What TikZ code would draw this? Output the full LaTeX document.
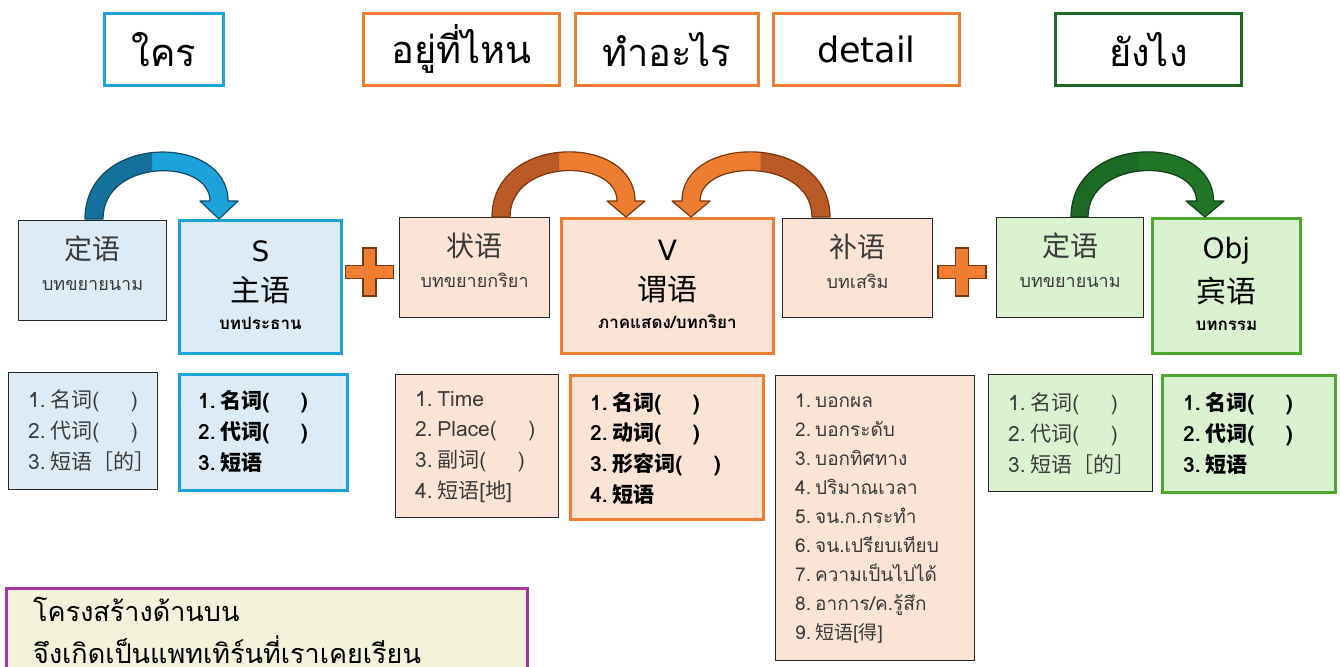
\documentclass[tikz,border=0pt]{standalone}
\usepackage{fontspec}
\setmainfont{Loma}[Script=Thai]
\newfontfamily\cjk{Noto Sans CJK SC}
\newfontfamily\lat{DejaVu Sans}
\definecolor{blueC}{HTML}{1CA3DC}
\definecolor{blueD}{HTML}{15719C}
\definecolor{blueO}{HTML}{0E4C6A}
\definecolor{lblue}{HTML}{DDEBF7}
\definecolor{orC}{HTML}{ED7D31}
\definecolor{orD}{HTML}{B95A27}
\definecolor{orO}{HTML}{7A360C}
\definecolor{peach}{HTML}{FBE4D6}
\definecolor{grC}{HTML}{4EA72E}
\definecolor{grD}{HTML}{1D6A24}
\definecolor{grL}{HTML}{207526}
\definecolor{grO}{HTML}{10401A}
\definecolor{lgreen}{HTML}{DAF2D0}
\definecolor{yel}{HTML}{F3F3DC}
\definecolor{purp}{HTML}{A5379E}
\definecolor{txg}{HTML}{3A3A3A}
\definecolor{edge}{HTML}{262626}
\newcommand\fsz[2]{\fontsize{#1}{#2}\selectfont}
\newcommand\itm[1]{\hbox{#1}}
\newcommand\nsp{\hspace{0.22em}}
\newcommand\lgap{(\hspace{1.5em})}
\newcommand\dnrule[1]{\rule[-#1]{0pt}{#1}}
\newcommand\plussign[2]{%
  \filldraw[fill=orC,draw=orO,line width=1.4pt] ({#1-6.5},{#2-24}) -- ({#1+6.5},{#2-24}) -- ({#1+6.5},{#2-6.5}) -- ({#1+24},{#2-6.5}) -- ({#1+24},{#2+6.5}) -- ({#1+6.5},{#2+6.5}) -- ({#1+6.5},{#2+24}) -- ({#1-6.5},{#2+24}) -- ({#1-6.5},{#2+6.5}) -- ({#1-24},{#2+6.5}) -- ({#1-24},{#2-6.5}) -- ({#1-6.5},{#2-6.5}) -- cycle;}
% #1 tail outer x, #2 head centre x, #3 signed shaft width, #4 signed head half width, #5 tail/tip y, #6 dark, #7 light, #8 outline
\newcommand\bentarrow[8]{%
  \def\bpath{(#1,#5) .. controls (#1,133) and ({#2+#3/2},133) .. ({#2+#3/2},201) -- ({#2+#4},201) -- (#2,#5) -- ({#2-#4},201) -- ({#2-#3/2},201) .. controls ({#2-#3/2},158) and ({#1+#3},158) .. ({#1+#3},#5) -- cycle}%
  \fill[#7] \bpath;
  \begin{scope}
    \clip ({#1-#3},120) rectangle ({(#1+#2)/2},230);
    \fill[#6] \bpath;
  \end{scope}
  \draw[#8,line width=1.2pt,line join=round] \bpath;}
\tikzset{
  lab/.style={draw, line width=2.6pt, anchor=north west, inner sep=0pt, minimum height=72pt, font=\fsz{38}{40}},
  mbox/.style={draw=edge, line width=1.2pt, anchor=north west, inner sep=0pt, align=center},
  hbox/.style={line width=2.8pt, anchor=north west, inner sep=0pt, align=center},
  lbox/.style={draw=edge, line width=1.2pt, anchor=north west, inner sep=0pt},
  ltxt/.style={anchor=base west, inner sep=0pt, text=txg},
  btxt/.style={anchor=base west, inner sep=0pt, text=black, font=\bfseries},
}
\begin{document}
\begin{tikzpicture}[x=1pt,y=-1pt]
\useasboundingbox[fill=white] (0,0) rectangle (1340,666);
% top labels
\node[lab, draw=blueC, minimum width=119pt] (q1) at (103,12) {ใคร};
\node[lab, draw=orC, minimum width=196pt] (q2) at (362,12) {อยู่ที่ไหน};
\node[lab, draw=orC, minimum width=183pt] (q3) at (574,12) {ทำอะไร};
\node[lab, draw=orC, minimum width=186pt, font={\lat\fsz{35}{40}}] (q4) at (772,12) {detail};
\node[lab, draw=grD, minimum width=186pt] (q5) at (1054,12) {ยังไง};
% main boxes
\node[mbox, fill=lblue, minimum width=148pt, minimum height=100pt, text=txg, font=\fsz{18}{31}] (d1) at (18,220)
  {{\fsz{28}{31}\cjk 定语}\\ บทขยายนาม\dnrule{15pt}};
\node[hbox, draw=blueC, fill=lblue, minimum width=162pt, minimum height=133pt, font=\fsz{17}{28}] (s1) at (178,219)
  {{\lat\fsz{28}{28}S}\\[12pt]{\fsz{30}{28}\cjk 主语}\\ {\bfseries บทประธาน}\dnrule{4pt}};
\node[mbox, fill=peach, minimum width=150pt, minimum height=100pt, text=txg, font=\fsz{18}{31}] (a1) at (399,217)
  {{\fsz{28}{31}\cjk 状语}\\ บทขยายกริยา\dnrule{14pt}};
\node[hbox, draw=orC, fill=peach, minimum width=212pt, minimum height=135pt, font=\fsz{17}{28}] (v1) at (560,217)
  {{\lat\fsz{28}{28}V}\\[12pt]{\fsz{30}{28}\cjk 谓语}\\ {\bfseries ภาคแสดง/บทกริยา}\dnrule{4pt}};
\node[mbox, fill=peach, minimum width=150pt, minimum height=99pt, text=txg, font=\fsz{18}{31}] (c1) at (782,218)
  {{\fsz{28}{31}\cjk 补语}\\ บทเสริม\dnrule{14pt}};
\node[mbox, fill=lgreen, minimum width=147pt, minimum height=100pt, text=txg, font=\fsz{18}{31}] (d2) at (996,217)
  {{\fsz{28}{31}\cjk 定语}\\ บทขยายนาม\dnrule{14pt}};
\node[hbox, draw=grC, fill=lgreen, minimum width=148pt, minimum height=135pt, font=\fsz{17}{28}] (o1) at (1151,217)
  {{\lat\fsz{28}{28}Obj}\\[12pt]{\fsz{30}{28}\cjk 宾语}\\ {\bfseries บทกรรม}\dnrule{4pt}};
% plus signs
\plussign{369.5}{272}
\plussign{962}{272}
% bent arrows
\bentarrow{85}{219}{18}{19}{219}{blueD}{blueC}{blueO}
\bentarrow{492}{626}{18}{19}{217}{orD}{orC}{orO}
\bentarrow{830}{691}{-18}{-19}{217}{orD}{orC}{orO}
\bentarrow{1071}{1205}{17}{19}{217}{grD}{grL}{grO}
% list boxes
\node[lbox, fill=lblue, minimum width=149pt, minimum height=117pt] (l1) at (8,372) {};
\node[lbox, draw=blueC, line width=2.8pt, fill=lblue, minimum width=168pt, minimum height=116pt] (l2) at (178,373) {};
\node[lbox, fill=peach, minimum width=163pt, minimum height=143pt] (l3) at (395,374) {};
\node[lbox, draw=orC, line width=2.8pt, fill=peach, minimum width=193pt, minimum height=144pt] (l4) at (569,374) {};
\node[lbox, fill=peach, minimum width=199pt, minimum height=285pt] (l5) at (775,375) {};
\node[lbox, fill=lgreen, minimum width=164pt, minimum height=117pt] (l6) at (988,374) {};
\node[lbox, draw=grC, line width=2.8pt, fill=lgreen, minimum width=173pt, minimum height=117pt] (l7) at (1161,374) {};
\node[lbox, draw=purp, line width=2.6pt, fill=yel, minimum width=521pt, minimum height=100pt] (nb) at (5,587) {};
% list texts
\node[ltxt, font=\fsz{21}{31}] (t1) at (28,407) {\vtop{\baselineskip=31pt\lineskiplimit=-50pt
  \itm{1.\nsp{\cjk 名词}\lgap}\itm{2.\nsp{\cjk 代词}\lgap}\itm{3.\nsp{\cjk 短语［的］}}}};
\node[btxt, font=\fsz{21}{31}\bfseries] (t2) at (198,408) {\vtop{\baselineskip=31pt\lineskiplimit=-50pt
  \itm{1.\nsp{\cjk\bfseries 名词}\lgap}\itm{2.\nsp{\cjk\bfseries 代词}\lgap}\itm{3.\nsp{\cjk\bfseries 短语}}}};
\node[ltxt, font=\fsz{21}{31}] (t3) at (415,406) {\vtop{\baselineskip=30.7pt\lineskiplimit=-50pt
  \itm{1.\nsp Time}\itm{2.\nsp Place\lgap}\itm{3.\nsp{\cjk 副词}\lgap}\itm{4.\nsp{\cjk 短语}[{\cjk 地}]}}};
\node[btxt, font=\fsz{21}{31}\bfseries] (t4) at (590,410) {\vtop{\baselineskip=30.7pt\lineskiplimit=-50pt
  \itm{1.\nsp{\cjk\bfseries 名词}\lgap}\itm{2.\nsp{\cjk\bfseries 动词}\lgap}\itm{3.\nsp{\cjk\bfseries 形容词}\lgap}\itm{4.\nsp{\cjk\bfseries 短语}}}};
\node[ltxt, font=\fsz{19}{29}] (t5) at (795,407) {\vtop{\baselineskip=29.1pt\lineskiplimit=-50pt
  \itm{1.\nsp บอกผล}\itm{2.\nsp บอกระดับ}\itm{3.\nsp บอกทิศทาง}\itm{4.\nsp ปริมาณเวลา}\itm{5.\nsp จน.ก.กระทำ}\itm{6.\nsp จน.เปรียบเทียบ}\itm{7.\nsp ความเป็นไปได้}\itm{8.\nsp อาการ/ค.รู้สึก}\itm{9.\nsp{\cjk 短语}[{\cjk 得}]}}};
\node[ltxt, font=\fsz{21}{31}] (t6) at (1008,410) {\vtop{\baselineskip=31pt\lineskiplimit=-50pt
  \itm{1.\nsp{\cjk 名词}\lgap}\itm{2.\nsp{\cjk 代词}\lgap}\itm{3.\nsp{\cjk 短语［的］}}}};
\node[btxt, font=\fsz{21}{31}\bfseries] (t7) at (1183,410) {\vtop{\baselineskip=31pt\lineskiplimit=-50pt
  \itm{1.\nsp{\cjk\bfseries 名词}\lgap}\itm{2.\nsp{\cjk\bfseries 代词}\lgap}\itm{3.\nsp{\cjk\bfseries 短语}}}};
\node[ltxt, text=black, font=\fsz{27}{42}] (tb) at (33,621) {\vtop{\baselineskip=42pt\lineskiplimit=-50pt
  \itm{โครงสร้างด้านบน}\itm{จึงเกิดเป็นแพทเทิร์นที่เราเคยเรียน}}};
\end{tikzpicture}
\end{document}
